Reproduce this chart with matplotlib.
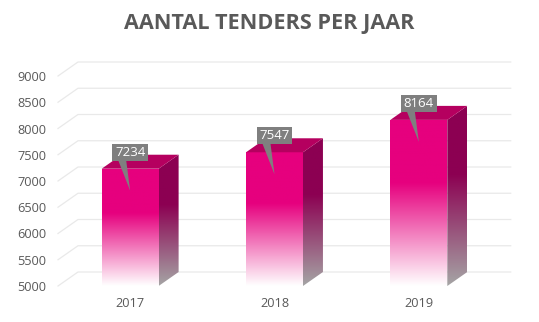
import matplotlib.pyplot as plt
import numpy as np
from matplotlib.patches import Polygon, Rectangle

years = ['2017', '2018', '2019']
tenders = [7234, 7547, 8164]
y_ticks = [5000, 5500, 6000, 6500, 7000, 7500, 8000, 8500, 9000]

plt.rcParams['font.family'] = ['Open Sans', 'DejaVu Sans']
txt_col = '#595959'

fig = plt.figure(figsize=(5.39, 3.22), dpi=100)
ax = fig.add_axes([58/539, 36/322, 433/539, 210/322])
ax.set_xlim(-0.5, 2.5)
ax.set_ylim(5000, 9000)

# pixel sizes in data units
px_x = 1/144.5
px_y = 1000/52.5
dx, dy = 20*px_x, 14*px_y   # depth offset for the 3d look
bar_w = 57*px_x
base = 5000


def grad(c_top, c_bot, solid=0.38, n=200):
    t = np.linspace(0, 1, n)
    s = np.clip((t - solid) / (1 - solid), 0, 1)[:, None]
    c = np.array(c_top)*(1-s) + np.array(c_bot)*s
    return (c/255)[:, None, :]


# back wall gridlines
for yt in y_ticks:
    ax.plot([-0.5, -0.5+dx, 511*px_x - 130*px_x], [yt, yt+dy, yt+dy],
            color='#e9e9e9', lw=0.9, zorder=1, clip_on=False)

x = np.arange(len(years))
bars = ax.bar(x, np.array(tenders)-base, bottom=base, width=bar_w,
              color='none', linewidth=0, zorder=3)

for xi, v, b in zip(x, tenders, bars):
    # front face
    im = ax.imshow(grad((230, 0, 126), (255, 255, 255)),
                   extent=[xi-bar_w/2, xi+bar_w/2, base, v],
                   aspect='auto', zorder=3)
    im.set_clip_path(b)
    # side face
    xr = xi + bar_w/2
    side = Polygon([(xr, base), (xr, v), (xr+dx, v+dy), (xr+dx, base+dy)],
                   closed=True, facecolor='none', edgecolor='none')
    ax.add_patch(side)
    im2 = ax.imshow(grad((140, 0, 82), (165, 165, 165), solid=0.38),
                    extent=[xr, xr+dx, base, v+dy], aspect='auto', zorder=3)
    im2.set_clip_path(side)
    # top face
    ax.add_patch(Polygon([(xi-bar_w/2, v), (xr, v), (xr+dx, v+dy), (xi-bar_w/2+dx, v+dy)],
                         closed=True, facecolor='#b5005f', edgecolor='none', zorder=3))

# data label callouts
for xi, v in zip(x, tenders):
    ax.add_patch(Polygon([(xi-12*px_x, v+8.5*px_y), (xi-4*px_x, v+8.5*px_y), (xi, v-22*px_y)],
                         closed=True, facecolor='#7f7f7f', edgecolor='none', zorder=5))
    ax.add_patch(Rectangle((xi-18*px_x, v+8*px_y), 36*px_x, 17*px_y,
                           facecolor='#7f7f7f', edgecolor='none', zorder=5))
    ax.text(xi, v+16.5*px_y, str(v), ha='center', va='center', color='white',
            fontsize=9.5, zorder=6)

ax.set_xlim(-0.5, 2.5)
ax.set_ylim(5000, 9000)
ax.set_xticks(x)
ax.set_xticklabels(years)
ax.set_yticks(y_ticks)
ax.tick_params(axis='both', length=0, colors=txt_col, labelsize=9.2)
ax.tick_params(axis='x', pad=8)
ax.tick_params(axis='y', pad=8.6)
for s in ax.spines.values():
    s.set_visible(False)

fig.text(269.5/539, 1-24/322, 'AANTAL TENDERS PER JAAR', ha='center', va='center',
         fontsize=15.6, fontweight='bold', color=txt_col)

fig.savefig('out.png', dpi=100)
